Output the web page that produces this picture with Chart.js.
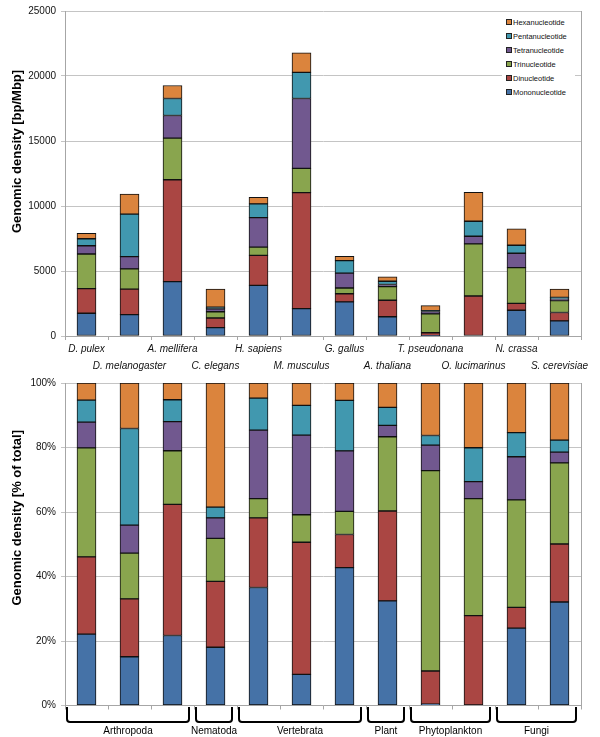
<!DOCTYPE html>
<html>
<head>
<meta charset="utf-8">
<script src="https://cdn.jsdelivr.net/npm/chart.js@4.4.1/dist/chart.umd.min.js"></script>
<style>
    body { margin: 0; background: #fff; font-family: "Liberation Sans", Arial, sans-serif; }
    #wrap { position: relative; width: 600px; height: 737px; }
    #density-canvas { position: absolute; left: 0; top: 0; }
    #percent-canvas { position: absolute; left: 0; top: 372px; }
    #legend { position: absolute; left: 502px; top: 16px; width: 73px; height: 86px; background: #fff; }
    .legend-item { position: absolute; left: 4px; font-size: 7.5px; line-height: 8px; color: #111; white-space: nowrap; }
    .swatch { display: inline-block; width: 4px; height: 4px; border: 1px solid #222; margin-right: 1px; vertical-align: 0px; }
</style>
</head>
<body>
<div id="wrap">
    <canvas id="density-canvas" width="600" height="372"></canvas>
    <canvas id="percent-canvas" width="600" height="365"></canvas>
    <div id="legend"></div>
</div>
<script>
var categories = ['D. pulex', 'D. melanogaster', 'A. mellifera', 'C. elegans', 'H. sapiens', 'M. musculus',
    'G. gallus', 'A. thaliana', 'T. pseudonana', 'O. lucimarinus', 'N. crassa', 'S. cerevisiae']

// genomic density, bp/Mbp
var mononucleotide = [1750, 1650, 4180, 650, 3900, 2100, 2620, 1480, 10, 0, 1980, 1160]
var dinucleotide = [1890, 1960, 7840, 735, 2300, 8930, 630, 1270, 240, 3080, 530, 650]
var trinucleotide = [2670, 1550, 3200, 480, 640, 1860, 440, 1050, 1450, 4010, 2750, 910]
var tetranucleotide = [630, 950, 1740, 230, 2260, 5380, 1150, 160, 185, 580, 1105, 120]
var pentanucleotide = [540, 3270, 1310, 120, 1060, 2010, 960, 255, 70, 1160, 617, 135]
var hexanucleotide = [420, 1540, 1000, 1385, 500, 1510, 330, 345, 380, 2220, 1270, 640]

var seriesNames = ['Mononucleotide', 'Dinucleotide', 'Trinucleotide', 'Tetranucleotide', 'Pentanucleotide', 'Hexanucleotide']
var seriesColors = ['#4572A7', '#AA4643', '#89A54E', '#71588F', '#4198AF', '#DB843D']

var groupNames = ['Arthropoda', 'Nematoda', 'Vertebrata', 'Plant', 'Phytoplankton', 'Fungi']
var groupSizes = [3, 1, 3, 1, 2, 2]

var allSeries = [mononucleotide, dinucleotide, trinucleotide, tetranucleotide, pentanucleotide, hexanucleotide]
var fontFamily = '"Liberation Sans", Arial, sans-serif'

Chart.defaults.font.family = fontFamily
Chart.defaults.color = '#111'

function get_totals() {
    var totals = []
    for (let i = 0; i < categories.length; i++) {
        var sum = 0
        for (let s = 0; s < allSeries.length; s++) {
            sum += allSeries[s][i]
        }
        totals.push(sum)
    }
    return totals
}

function make_datasets(percent) {
    var totals = get_totals()
    var datasets = []
    for (let s = 0; s < allSeries.length; s++) {
        var values = allSeries[s]
        if (percent) {
            values = values.map(function (v, i) { return v / totals[i] * 100 })
        }
        datasets.push({
            label: seriesNames[s],
            data: values,
            backgroundColor: seriesColors[s],
            borderColor: '#111',
            borderWidth: 1,
            borderSkipped: false,
            barThickness: 19
        })
    }
    return datasets
}

// right frame line + the side title
var framePlugin = {
    id: 'frame',
    afterDraw: function (chart, args, opts) {
        var ctx = chart.ctx
        var area = chart.chartArea
        ctx.save()
        ctx.strokeStyle = '#a6a6a6'
        ctx.lineWidth = 1
        ctx.beginPath()
        ctx.moveTo(Math.round(area.right) + 0.5, area.top)
        ctx.lineTo(Math.round(area.right) + 0.5, area.bottom)
        ctx.stroke()
        ctx.translate(17, (area.top + area.bottom) / 2 + opts.shift)
        ctx.rotate(-Math.PI / 2)
        ctx.font = 'bold 13px ' + fontFamily
        ctx.textAlign = 'center'
        ctx.textBaseline = 'middle'
        ctx.fillStyle = '#000'
        ctx.fillText(opts.title, 0, 0)
        ctx.restore()
    }
}

// brackets under the lower chart
var groupPlugin = {
    id: 'groups',
    afterDraw: function (chart) {
        if (!chart.options.plugins.groups.show) return
        var ctx = chart.ctx
        var x = chart.scales.x
        var area = chart.chartArea
        var half = (x.getPixelForValue(1) - x.getPixelForValue(0)) / 2
        var start = 0
        ctx.save()
        ctx.strokeStyle = '#000'
        ctx.fillStyle = '#000'
        ctx.lineWidth = 2
        ctx.lineJoin = 'round'
        ctx.font = '10px ' + fontFamily
        ctx.textAlign = 'center'
        ctx.textBaseline = 'middle'
        for (let g = 0; g < groupNames.length; g++) {
            var l = x.getPixelForValue(start) - half + 2
            var r = x.getPixelForValue(start + groupSizes[g] - 1) + half - 5
            var t = area.bottom + 1.5
            var b = area.bottom + 16.5
            ctx.beginPath()
            ctx.moveTo(l, t)
            ctx.arcTo(l, b, r, b, 3)
            ctx.arcTo(r, b, r, t, 3)
            ctx.lineTo(r, t)
            ctx.stroke()
            ctx.fillText(groupNames[g], (l + r) / 2, area.bottom + 25.5)
            start += groupSizes[g]
        }
        ctx.restore()
    }
}

function make_options(yOpts, xOpts, title, shift, xHeight, topPad, groups) {
    return {
        responsive: false,
        animation: false,
        devicePixelRatio: 1,
        layout: { padding: { left: 0, right: 19, top: topPad, bottom: 0 } },
        plugins: {
            legend: { display: false },
            tooltip: { enabled: false },
            frame: { title: title, shift: shift },
            groups: { show: groups }
        },
        scales: {
            x: Object.assign({
                stacked: true,
                grid: { offset: true, drawOnChartArea: false, drawTicks: true, tickLength: 4, color: '#a6a6a6' },
                border: { color: '#a6a6a6' },
                afterFit: function (scale) { scale.height = xHeight }
            }, xOpts),
            y: Object.assign({
                stacked: true,
                min: 0,
                grid: { color: '#c4c4c4', tickLength: 4 },
                border: { color: '#a6a6a6' },
                afterFit: function (scale) { scale.width = 65 }
            }, yOpts)
        }
    }
}

var staggered = categories.map(function (c, i) { return i % 2 == 0 ? [c, ''] : ['', c] })

var densityCtx = document.getElementById('density-canvas').getContext('2d')
var densityChart = new Chart(densityCtx, {
    type: 'bar',
    data: { labels: staggered, datasets: make_datasets(false) },
    options: make_options(
        { max: 25000, ticks: { stepSize: 5000, padding: 5, font: { size: 10 }, callback: function (v) { return String(v) } } },
        { ticks: { autoSkip: false, maxRotation: 0, padding: 1, font: { size: 10, style: 'italic', lineHeight: 1.7 } } },
        'Genomic density [bp/Mbp]', -22, 36, 11, false),
    plugins: [framePlugin, groupPlugin]
})

var percentCtx = document.getElementById('percent-canvas').getContext('2d')
var percentChart = new Chart(percentCtx, {
    type: 'bar',
    data: { labels: categories, datasets: make_datasets(true) },
    options: make_options(
        { max: 100, ticks: { stepSize: 20, padding: 5, font: { size: 10 }, callback: function (v) { return v + '%' } } },
        { ticks: { display: false } },
        'Genomic density [% of total]', -26.5, 31.5, 7, true),
    plugins: [framePlugin, groupPlugin]
})

// legend, reversed like the original
var legend = document.getElementById('legend')
for (let s = seriesNames.length - 1; s >= 0; s--) {
    var row = seriesNames.length - 1 - s
    var item = document.createElement('div')
    item.className = 'legend-item'
    item.style.top = (3.3 + row * 14) + 'px'
    item.innerHTML = '<span class="swatch" style="background:' + seriesColors[s] + '"></span>' + seriesNames[s]
    legend.appendChild(item)
}
</script>
</body>
</html>
